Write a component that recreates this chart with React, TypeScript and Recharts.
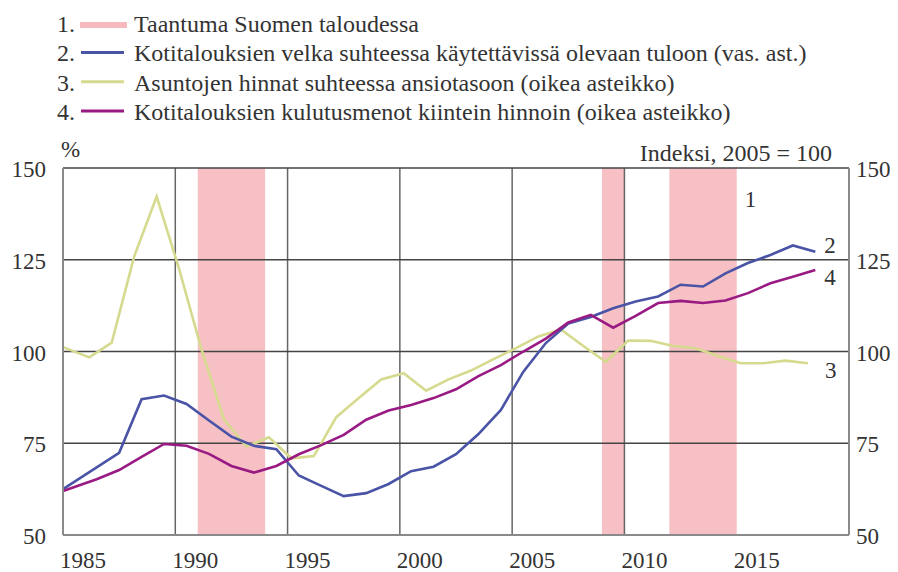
import React from "react";
import { LineChart, Line, XAxis, YAxis, ReferenceArea, ReferenceLine, ReferenceDot } from "recharts";

const FONT = '"Liberation Serif", "Times New Roman", serif';
const TEXT = "#333333";
const PINK = "#f5b9be";
const BLUE = "#4a54a6";
const YELLOW = "#d6da8e";
const PURPLE = "#9a1a84";

// recession periods (start year, end year)
const recessions: [number, number][] = [
  [1991, 1994],
  [2009, 2010],
  [2012, 2015],
];

// 2. household debt / disposable income, % (left axis)
const debtTime = [
  1985, 1987.5, 1988.5, 1989.5, 1990.5, 1991.5, 1992.5, 1993.5, 1994.5, 1995.5, 1996.5,
  1997.5, 1998.5, 1999.5, 2000.5, 2001.5, 2002.5, 2003.5, 2004.5, 2005.5, 2006.5, 2007.5,
  2008.5, 2009.5, 2010.5, 2011.5, 2012.5, 2013.5, 2014.5, 2015.5, 2016.5, 2017.5, 2018.5,
];
const debt = [
  62.5, 72.4, 87.0, 88.0, 85.7, 81.2, 76.8, 74.3, 73.4, 66.2, 63.4,
  60.6, 61.4, 63.9, 67.4, 68.6, 72.0, 77.5, 84.1, 94.5, 102.3, 107.6,
  109.4, 111.8, 113.6, 115.0, 118.2, 117.7, 121.3, 124.1, 126.3, 128.9, 127.2,
];

// 3. house prices / earnings index (right axis)
const housingTime = [
  1985, 1986.17, 1987.17, 1988.17, 1989.17, 1990.17, 1991.17, 1992.17, 1993.17, 1994.17,
  1995.17, 1996.17, 1997.17, 1998.17, 1999.17, 2000.17, 2001.17, 2002.17, 2003.17, 2004.17,
  2005.17, 2006.17, 2007.17, 2008.17, 2009.17, 2010.17, 2011.17, 2012.17, 2013.17, 2014.17,
  2015.17, 2016.17, 2017.17, 2018.17,
];
const housing = [
  101.2, 98.4, 102.4, 125.9, 142.2, 122.5, 100.5, 81.5, 74.1, 76.6,
  70.9, 71.5, 82.1, 87.3, 92.4, 94.1, 89.3, 92.4, 94.8, 97.9,
  100.9, 104.1, 106.0, 101.5, 97.2, 103.0, 102.9, 101.5, 100.9, 98.8,
  96.8, 96.8, 97.5, 96.8,
];

// 4. household consumption at constant prices index (right axis)
const consTime = [
  1985, 1986.5, 1987.5, 1988.5, 1989.5, 1990.5, 1991.5, 1992.5, 1993.5, 1994.5, 1995.5,
  1996.5, 1997.5, 1998.5, 1999.5, 2000.5, 2001.5, 2002.5, 2003.5, 2004.5, 2005.5, 2006.5,
  2007.5, 2008.5, 2009.5, 2010.5, 2011.5, 2012.5, 2013.5, 2014.5, 2015.5, 2016.5, 2017.5,
  2018.5,
];
const consumption = [
  62.0, 65.2, 67.7, 71.3, 74.8, 74.3, 72.1, 68.8, 67.0, 68.8, 72.0,
  74.5, 77.3, 81.4, 83.9, 85.4, 87.3, 89.7, 93.3, 96.3, 100.0, 103.5,
  107.9, 110.0, 106.5, 109.7, 113.2, 113.8, 113.2, 113.9, 115.9, 118.6, 120.4,
  122.2,
];

const xTicks = [1985, 1990, 1995, 2000, 2005, 2010, 2015];
const gridYears = [1990, 1995, 2000, 2005, 2010];
const yTicks = [50, 75, 100, 125, 150];
const gridValues = [75, 100, 125];

const legendItems = [
  { n: "1.", label: "Taantuma Suomen taloudessa", color: PINK, thick: true },
  { n: "2.", label: "Kotitalouksien velka suhteessa käytettävissä olevaan tuloon (vas. ast.)", color: BLUE },
  { n: "3.", label: "Asuntojen hinnat suhteessa ansiotasoon (oikea asteikko)", color: YELLOW },
  { n: "4.", label: "Kotitalouksien kulutusmenot kiintein hinnoin (oikea asteikko)", color: PURPLE },
];

const zip = (t: number[], v: number[]) => t.map((x, i) => ({ t: x, v: v[i] }));
const debtData = zip(debtTime, debt);
const housingData = zip(housingTime, housing);
const consData = zip(consTime, consumption);

const LeftTick = ({ x, y, payload }: any) => (
  <text x={x} y={y + 9} textAnchor="end" fontSize={23} fontFamily={FONT} fill={TEXT}>
    {payload.value}
  </text>
);
const RightTick = ({ x, y, payload }: any) => (
  <text x={x} y={y + 9} textAnchor="start" fontSize={23} fontFamily={FONT} fill={TEXT}>
    {payload.value}
  </text>
);
const BottomTick = ({ x, y, payload }: any) => (
  <text x={x - 3} y={y + 31} textAnchor="start" fontSize={23} fontFamily={FONT} fill={TEXT}>
    {payload.value}
  </text>
);

const tag = (text: string, dx: number, dy: number) => (p: any) => (
  <text x={p.cx + dx} y={p.cy + dy} fontSize={23} fontFamily={FONT} fill={TEXT}>
    {text}
  </text>
);

export default function App() {
  const lastDebt = debtData[debtData.length - 1];
  const lastHousing = housingData[housingData.length - 1];
  const lastCons = consData[consData.length - 1];
  return (
    // outer box reaches the bottom of the page; inner box is shifted back to the page corner
    <div style={{ position: "relative", width: 882, height: 564 }}>
      <div style={{ position: "absolute", left: -8, top: -8, width: 898, height: 572, background: "#fff" }}>
        <LineChart width={898} height={572} margin={{ top: 168, right: 4, bottom: 7, left: 13 }}>
          <XAxis
            dataKey="t"
            type="number"
            domain={[1985, 2020]}
            ticks={xTicks}
            tick={<BottomTick />}
            tickSize={0}
            tickLine={false}
            height={30}
            axisLine={{ stroke: "#8a8a8a", strokeWidth: 2 }}
            allowDuplicatedCategory={false}
          />
          <YAxis
            yAxisId="left"
            domain={[50, 150]}
            ticks={yTicks}
            width={50}
            tickSize={0}
            tickMargin={17}
            tickLine={false}
            tick={<LeftTick />}
            axisLine={{ stroke: "#8a8a8a", strokeWidth: 2 }}
          />
          <YAxis
            yAxisId="right"
            orientation="right"
            domain={[50, 150]}
            ticks={yTicks}
            width={45}
            tickSize={0}
            tickMargin={7}
            tickLine={false}
            tick={<RightTick />}
            axisLine={{ stroke: "#8a8a8a", strokeWidth: 2 }}
          />
          {recessions.map(([a, b]) => (
            <ReferenceArea
              key={a}
              yAxisId="left"
              x1={a}
              x2={b}
              y1={50}
              y2={150}
              fill={PINK}
              fillOpacity={0.9}
              stroke="none"
            />
          ))}
          {gridYears.map((yr) => (
            <ReferenceLine key={yr} yAxisId="left" x={yr} stroke="#666" strokeWidth={1.5} />
          ))}
          {gridValues.map((v) => (
            <ReferenceLine key={v} yAxisId="left" y={v} stroke="#444" strokeWidth={1.3} />
          ))}
          <ReferenceLine yAxisId="left" y={150} stroke="#444" strokeWidth={1.5} />
          <Line
            yAxisId="right"
            data={housingData}
            dataKey="v"
            stroke={YELLOW}
            strokeWidth={2.6}
            dot={false}
            type="linear"
            isAnimationActive={false}
          />
          <Line
            yAxisId="left"
            data={debtData}
            dataKey="v"
            stroke={BLUE}
            strokeWidth={2.6}
            dot={false}
            type="linear"
            isAnimationActive={false}
          />
          <Line
            yAxisId="right"
            data={consData}
            dataKey="v"
            stroke={PURPLE}
            strokeWidth={2.6}
            dot={false}
            type="linear"
            isAnimationActive={false}
          />
          <ReferenceDot yAxisId="left" x={2015} y={150} r={0} shape={tag("1", 8, 39)} />
          <ReferenceDot yAxisId="left" x={lastDebt.t} y={lastDebt.v} r={0} shape={tag("2", 9, 1)} />
          <ReferenceDot yAxisId="right" x={lastHousing.t} y={lastHousing.v} r={0} shape={tag("3", 17, 15)} />
          <ReferenceDot yAxisId="right" x={lastCons.t} y={lastCons.v} r={0} shape={tag("4", 9, 15)} />
        </LineChart>
        <svg
          width={898}
          height={170}
          style={{ position: "absolute", left: 0, top: 0, pointerEvents: "none" }}
          fontFamily={FONT}
        >
          {legendItems.map((it, i) => {
            const base = 32 + i * 29.3;
            const ly = i === 0 ? 25 : base - 8.8;
            return (
              <g key={it.n}>
                <text x={57} y={base} fontSize={24} fill={TEXT}>
                  {it.n}
                </text>
                <line
                  x1={it.thick ? 80 : 81}
                  x2={it.thick ? 127 : 124}
                  y1={ly}
                  y2={ly}
                  stroke={it.color}
                  strokeWidth={it.thick ? 6 : 3}
                />
                <text x={134} y={base} fontSize={24} fill={TEXT}>
                  {it.label}
                </text>
              </g>
            );
          })}
          <text x={61} y={157} fontSize={23} fill={TEXT}>
            %
          </text>
          <text x={832} y={161} fontSize={24} fill={TEXT} textAnchor="end">
            Indeksi, 2005 = 100
          </text>
        </svg>
      </div>
    </div>
  );
}
